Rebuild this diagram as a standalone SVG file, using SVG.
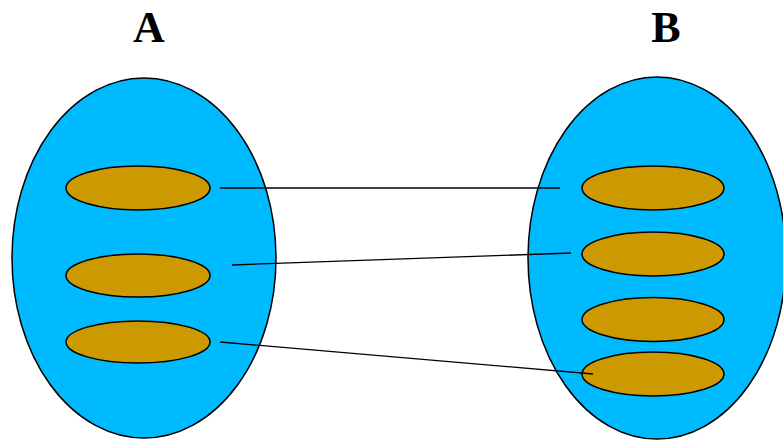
<svg xmlns="http://www.w3.org/2000/svg" width="783" height="440" viewBox="0 0 783 440">
  <style>
    .set { fill: #00BAFF; stroke: #000; stroke-width: 1.5; }
    .elem { fill: #CC9900; stroke: #000; stroke-width: 1.5; }
    .label { font-family: "Liberation Serif", serif; font-weight: bold; font-size: 44px; fill: #000; text-anchor: middle; }
    .map { stroke: #000; stroke-width: 1.3; fill: none; }
  </style>
  <rect width="783" height="440" fill="#fff"/>

  <!-- Set A -->
  <g id="setA">
    <ellipse class="set" cx="144" cy="258" rx="132" ry="180"/>
    <text class="label" x="149" y="42">A</text>
  </g>
  <g id="a1"><ellipse class="elem" cx="138" cy="188" rx="72" ry="22"/></g>
  <g id="a2"><ellipse class="elem" cx="138" cy="275.5" rx="72" ry="21.5"/></g>
  <g id="a3"><ellipse class="elem" cx="138" cy="342" rx="72" ry="21"/></g>

  <!-- Set B -->
  <g id="setB">
    <ellipse class="set" cx="657" cy="258" rx="129" ry="181"/>
    <text class="label" x="666" y="42">B</text>
  </g>
  <g id="b1"><ellipse class="elem" cx="653" cy="188" rx="71" ry="22"/></g>
  <g id="b2"><ellipse class="elem" cx="653" cy="254" rx="71" ry="22"/></g>
  <g id="b3"><ellipse class="elem" cx="653" cy="319.5" rx="71" ry="22"/></g>
  <g id="b4"><ellipse class="elem" cx="653" cy="374" rx="71" ry="22"/></g>

  <!-- Mapping from A to B -->
  <g id="connectors">
    <line class="map" x1="220" y1="188" x2="560" y2="188"/>
    <line class="map" x1="232" y1="265" x2="571" y2="253"/>
    <line class="map" x1="220" y1="342" x2="593" y2="374"/>
  </g>
</svg>
